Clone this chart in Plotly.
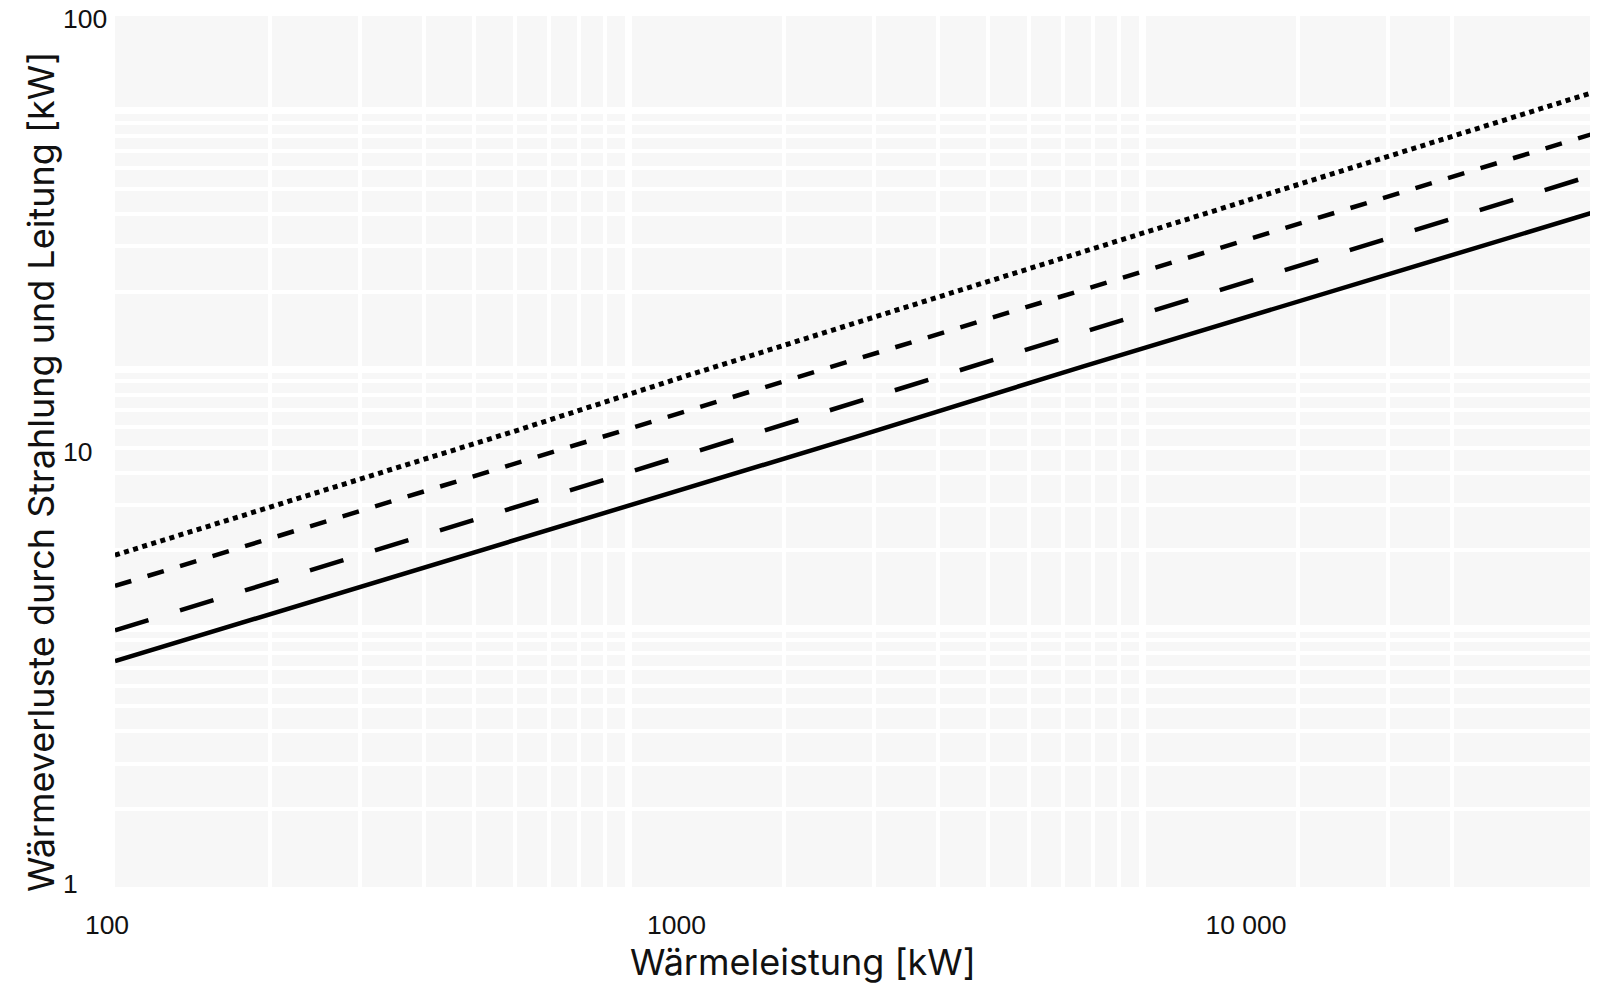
import plotly.graph_objects as go

# Data ########################################################################
# Wärmeleistung [kW]
leistung = [100, 200, 500, 1000, 2000, 5000, 10000, 20000, 40000]

# Wärmeverluste [kW], one list per curve
verlust_solid = [3.27, 4.31, 6.23, 8.21, 10.8, 15.7, 20.7, 27.3, 35.9]
verlust_longdash = [3.85, 5.10, 7.40, 9.80, 13.0, 18.8, 25.0, 33.1, 43.8]
verlust_dash = [4.88, 6.45, 9.35, 12.4, 16.3, 23.7, 31.2, 41.3, 54.6]
verlust_dot = [5.75, 7.65, 11.1, 14.9, 19.8, 28.9, 38.5, 51.2, 68.1]

# tick labels
x_tickvals = [100, 1000, 10000]
x_ticktext = ['100', '1000', '10 000']
y_tickvals = [1, 10, 100]
y_ticktext = ['1', '10', '100']

# grid lines (the grid in the original does not line up with the labels)
grid_x_major = [1000, 10000]
grid_x_minor = [200, 300, 400, 500, 600, 700, 800, 900,
                2000, 3000, 4000, 5000, 6000, 7000, 8000, 9000,
                20000, 30000, 40000]
grid_y_major = [10, 100, 1000]
grid_y_minor = [2, 3, 4, 5, 6, 7, 8, 9,
                20, 30, 40, 50, 60, 70, 80, 90,
                200, 300, 400, 500, 600, 700, 800, 900]

# Layout helpers ##############################################################
# the page body adds an 8 px margin, so the figure is a bit smaller
W, H = 1592, 985
m_l, m_r, m_t, m_b = 52, 10, 8, 106
plot_w = W - m_l - m_r
plot_h = H - m_t - m_b
page_off = 8
dom_x0 = (115 - page_off - m_l) / plot_w
plot_bottom = page_off + H - m_b

tick_font = dict(family='Liberation Sans, Arial, sans-serif', size=26.5, color='#111111')
title_font = dict(family='Inter, Noto Sans, sans-serif', size=36, color='#111111')

# Figure ######################################################################
fig = go.Figure()

# empty trace so the grid subplot exists
fig.add_trace(go.Scatter(x=[], y=[], xaxis='x', yaxis='y',
                         showlegend=False, hoverinfo='skip'))

curves = [
    (verlust_solid, 'solid', 4.5),
    (verlust_longdash, '35px,33px', 4.5),
    (verlust_dash, '17px,17px', 4.5),
    (verlust_dot, '5px,4.5px', 5),
]
for ys, dash, w in curves:
    fig.add_trace(go.Scatter(x=leistung, y=ys, mode='lines',
                             line=dict(color='black', width=w, dash=dash),
                             xaxis='x2', yaxis='y2', showlegend=False))

grid_minor = dict(tickmode='array', ticks='', showgrid=True,
                  gridcolor='white', gridwidth=3.5)

fig.update_layout(
    width=W, height=H,
    margin=dict(l=m_l, r=m_r, t=m_t, b=m_b),
    paper_bgcolor='white',
    plot_bgcolor='#f7f7f7',
    showlegend=False,
    xaxis=dict(type='log', range=[2, 4.87], domain=[dom_x0, 1],
               automargin=False,
               tickmode='array', tickvals=grid_x_major,
               showticklabels=False, ticks='', showline=False,
               showgrid=True, gridcolor='white', gridwidth=7,
               minor=dict(grid_minor, tickvals=grid_x_minor)),
    yaxis=dict(type='log', range=[0, 3.367], automargin=False,
               tickmode='array', tickvals=grid_y_major,
               showticklabels=False, ticks='', showline=False,
               showgrid=True, gridcolor='white', gridwidth=7,
               minor=dict(grid_minor, tickvals=grid_y_minor)),
    # labelled axes: 100 sits 8 px left of the plot edge in the original
    xaxis2=dict(type='log', range=[2, 2 + 1475 / 569.5], domain=[dom_x0, 1],
                overlaying='x', anchor='y', side='bottom', automargin=False,
                tickmode='array', tickvals=x_tickvals, ticktext=x_ticktext,
                ticks='', ticklabelstandoff=19, ticklabelshift=-8,
                ticklabeloverflow='allow',
                showgrid=False, showline=False, zeroline=False,
                tickfont=tick_font),
    yaxis2=dict(type='log', range=[-0.008, 2.007], automargin=False,
                overlaying='y', anchor='free', side='right',
                position=2 / plot_w,
                tickmode='array', tickvals=y_tickvals, ticktext=y_ticktext,
                ticks='', ticklabeloverflow='allow',
                showgrid=False, showline=False, zeroline=False,
                tickfont=tick_font),
)

# axis titles (placed where the original has them, page pixels)
def paper_x(px):
    return (px - page_off - m_l) / plot_w

def paper_y(py):
    return (plot_bottom - py) / plot_h

fig.add_annotation(text='Wärmeleistung [kW]', xref='paper', yref='paper',
                   x=paper_x(803), y=paper_y(962),
                   showarrow=False, font=title_font,
                   xanchor='center', yanchor='middle')
fig.add_annotation(text='Wärmeverluste durch Strahlung und Leitung [kW]',
                   xref='paper', yref='paper',
                   x=paper_x(41), y=paper_y(472),
                   showarrow=False, font=title_font, textangle=-90,
                   xanchor='center', yanchor='middle')

fig.write_html("out.html")
